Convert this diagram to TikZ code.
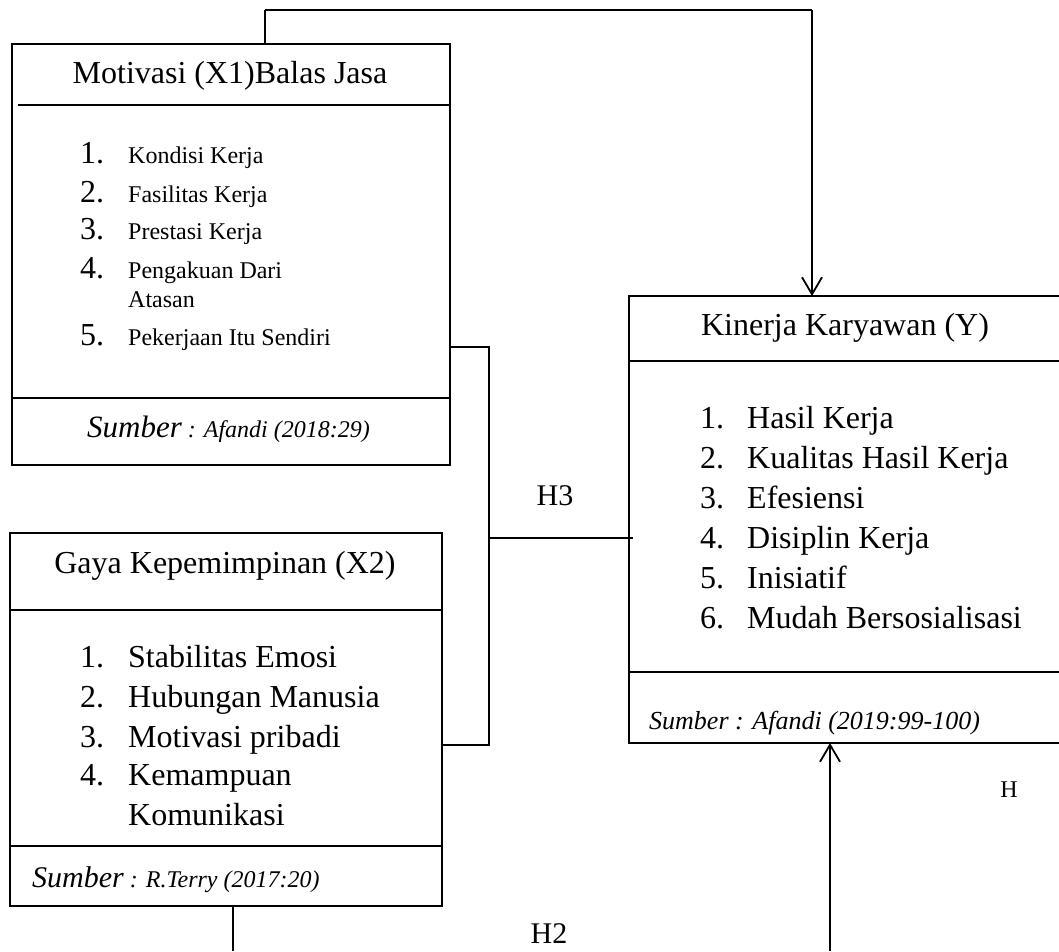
\documentclass[tikz,border=0pt]{standalone}
\usepackage{fontspec}
\setmainfont{Liberation Serif}
\usetikzlibrary{arrows.meta}
\newcommand\myfs[1]{\fontsize{#1}{#1}\selectfont}
\tikzset{
  box/.style={draw, line width=1.8pt, inner sep=0pt, outer sep=0pt},
  sepline/.style={line width=1.3pt},
  conn/.style={line width=1.3pt},
  arr/.style={line width=1.8pt, -{Straight Barb[length=17pt,width=20pt,line width=1.8pt]}},
  txt/.style={inner sep=0pt, anchor=base west},
  ctr/.style={inner sep=0pt, anchor=base},
}
\begin{document}
\begin{tikzpicture}[x=1pt,y=-1pt]
\useasboundingbox (0,0) rectangle (1059,951);

% boxes
\node[box, minimum width=438pt, minimum height=421pt] (mot) at (231,254.5) {};
\node[box, minimum width=432pt, minimum height=373pt] (gaya) at (226,719.5) {};
\node[box, minimum width=432pt, minimum height=447pt] (kin) at (845,519.5) {};

% separators
\draw[sepline] ([xshift=6pt]mot.west |- 0,105) -- (mot.east |- 0,105);
\draw[sepline] (mot.west |- 0,398) -- (mot.east |- 0,398);
\draw[sepline] (gaya.west |- 0,610) -- (gaya.east |- 0,610);
\draw[sepline] (gaya.west |- 0,846) -- (gaya.east |- 0,846);
\draw[sepline] (kin.west |- 0,361) -- (kin.east |- 0,361);
\draw[sepline] (kin.west |- 0,672) -- (kin.east |- 0,672);

% box 1 texts
\node[ctr] (motT) at (230,83) {\myfs{32}Motivasi (X1)Balas Jasa};
\node[txt] (m1n) at (80,163) {\myfs{32}1.};
\node[txt] (m1t) at (128,163) {\myfs{24}Kondisi Kerja};
\node[txt] (m2n) at (80,202) {\myfs{32}2.};
\node[txt] (m2t) at (128,202) {\myfs{24}Fasilitas Kerja};
\node[txt] (m3n) at (80,239) {\myfs{32}3.};
\node[txt] (m3t) at (128,239) {\myfs{24}Prestasi Kerja};
\node[txt] (m4n) at (80,278) {\myfs{32}4.};
\node[txt] (m4t) at (128,278) {\myfs{24}Pengakuan Dari};
\node[txt] (m4u) at (128,307) {\myfs{24}Atasan};
\node[txt] (m5n) at (80,345) {\myfs{32}5.};
\node[txt] (m5t) at (128,345) {\myfs{24}Pekerjaan Itu Sendiri};
\node[txt] (motS) at (87,437) {\itshape\myfs{31}Sumber\myfs{24} : Afandi (2018:29)};

% box 2 texts
\node[ctr] (gayaT) at (225,573) {\myfs{32}Gaya Kepemimpinan (X2)};
\node[txt] (g1n) at (80,667) {\myfs{32}1.};
\node[txt] (g1t) at (128,667) {\myfs{32}Stabilitas Emosi};
\node[txt] (g2n) at (80,707) {\myfs{32}2.};
\node[txt] (g2t) at (128,707) {\myfs{32}Hubungan Manusia};
\node[txt] (g3n) at (80,747) {\myfs{32}3.};
\node[txt] (g3t) at (128,747) {\myfs{32}Motivasi pribadi};
\node[txt] (g4n) at (80,785) {\myfs{32}4.};
\node[txt] (g4t) at (128,785) {\myfs{32}Kemampuan};
\node[txt] (g4u) at (128,825) {\myfs{32}Komunikasi};
\node[txt] (gayaS) at (32,887) {\itshape\myfs{30}Sumber\myfs{24} : R.Terry (2017:20)};

% box Y texts
\node[ctr] (kinT) at (845,335) {\myfs{32}Kinerja Karyawan (Y)};
\node[txt] (k1n) at (700,428) {\myfs{32}1.};
\node[txt] (k1t) at (747,428) {\myfs{32}Hasil Kerja};
\node[txt] (k2n) at (700,468) {\myfs{32}2.};
\node[txt] (k2t) at (747,468) {\myfs{32}Kualitas Hasil Kerja};
\node[txt] (k3n) at (700,508) {\myfs{32}3.};
\node[txt] (k3t) at (747,508) {\myfs{32}Efesiensi};
\node[txt] (k4n) at (700,548) {\myfs{32}4.};
\node[txt] (k4t) at (747,548) {\myfs{32}Disiplin Kerja};
\node[txt] (k5n) at (700,588) {\myfs{32}5.};
\node[txt] (k5t) at (747,588) {\myfs{32}Inisiatif};
\node[txt] (k6n) at (700,628) {\myfs{32}6.};
\node[txt] (k6t) at (747,628) {\myfs{32}Mudah Bersosialisasi};
\node[txt] (kinS) at (649,729) {\itshape\myfs{26}Sumber : Afandi (2019:99-100)};

% labels
\node[ctr] (h3) at (555,505) {\myfs{30}H3};
\node[ctr] (h2) at (549,943) {\myfs{30}H2};
\node[ctr] (h) at (1009,797) {\myfs{24}H};

% connectors
\coordinate (topR) at (812,10);
\draw[line width=1.8pt] (mot.north -| 265,0) -- (265,10);
\draw[conn] (265,10) -- (topR);
\draw[arr] (topR) -- (kin.north -| topR);

\coordinate (j3) at (489,538);
\draw[conn] (mot.east |- 0,347) -- (j3 |- 0,347) -- (j3) -- ([xshift=4pt]kin.west |- j3);
\draw[conn] (gaya.east |- 0,745) -- (j3 |- 0,745) -- (j3);

\coordinate (gEnd) at (233,951);
\draw[conn] (gaya.south -| gEnd) -- (gEnd);

\coordinate (kEnd) at (830,951);
\draw[arr] (kEnd) -- (kin.south -| kEnd);
\end{tikzpicture}
\end{document}
